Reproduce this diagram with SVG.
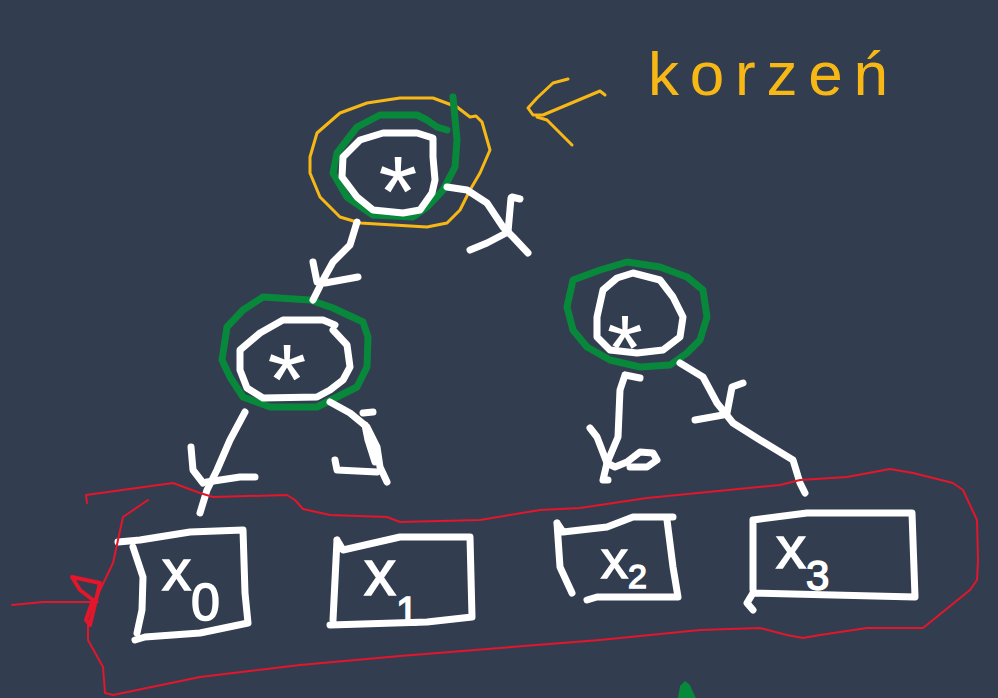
<svg xmlns="http://www.w3.org/2000/svg" width="998" height="698" viewBox="0 0 998 698">
<style>
.w{fill:none;stroke:#ffffff;stroke-width:7;stroke-linecap:round;stroke-linejoin:round}
.g{fill:none;stroke:#07883a;stroke-width:7;stroke-linecap:round;stroke-linejoin:round}
.o{fill:none;stroke:#f7b816;stroke-width:3;stroke-linecap:round;stroke-linejoin:round}
.r{fill:none;stroke:#e3162b;stroke-width:2;stroke-linecap:round;stroke-linejoin:round}
.rt{fill:none;stroke:#e3162b;stroke-width:4;stroke-linecap:round;stroke-linejoin:round}
.star{fill:#ffffff;font-family:"Liberation Sans",Arial,sans-serif;text-anchor:middle}
.lbl{fill:#ffffff;stroke:#ffffff;stroke-width:1.5;font-family:"Liberation Sans",Arial,sans-serif}
</style>
<rect width="998" height="698" fill="#333d50"/>

<g id="korzen-label">
  <text x="648" y="95" font-family="Liberation Sans, Arial, sans-serif" font-size="62" fill="#f7b816" textLength="240" lengthAdjust="spacing">korzeń</text>
  <path class="o" d="M568,79 L553,83 L537,98 L528,108 L533,115 L543,115 L600,91 L605,95"/>
  <path class="o" d="M537,117 L547,120 L572,145"/>
</g>

<g id="root">
  <path class="o" d="M310,157 L317,133 L340,113 L367,103 L400,98 L433,98 L457,107 L470,117 L476,116 L482,122 L490,150 L480,173 L470,190 L460,210 L447,223 L427,227 L360,223 L340,217 L320,197 L310,173 Z"/>
  <path class="g" d="M453,97 L457,140 L455,167 L443,190 L427,207 L413,217 L373,215 L347,197 L333,173 L337,153 L357,127 L380,115 L417,115 L427,120 L437,127 L447,130"/>
  <path class="w" d="M433,138 L433,157 L435,180 L432,193 L420,210 L403,213 L373,210 L357,197 L342,177 L343,157 L360,140 L383,133 L417,133 Z"/>
  <text class="star" x="398" y="226" font-size="100">*</text>
</g>

<g id="node-left">
  <path class="g" d="M263,297 L310,300 L333,308 L363,322 L368,337 L367,367 L357,387 L337,397 L317,407 L270,407 L243,397 L230,377 L222,360 L227,327 L243,310 Z"/>
  <path class="w" d="M333,330 L347,345 L350,367 L343,380 L330,390 L317,397 L263,398 L247,388 L240,370 L240,350 L260,333 L283,320 L323,320 L335,325"/>
  <text class="star" x="287" y="414" font-size="100">*</text>
</g>

<g id="node-right">
  <path class="g" d="M573,280 L600,270 L627,262 L660,267 L687,277 L703,290 L707,317 L700,340 L687,353 L670,365 L640,367 L610,360 L587,347 L573,330 L567,307 Z"/>
  <path class="w" d="M633,273 L660,280 L673,297 L683,317 L680,337 L663,350 L637,353 L610,350 L597,337 L597,317 L603,290 L617,278 Z"/>
  <text class="star" x="625" y="380" font-size="92">*</text>
</g>

<g id="connectors">
  <path class="w" d="M357,222 L350,245 L333,262 L323,280 L313,300"/>
  <path class="w" d="M313,262 L317,282 L325,283 L358,277"/>
  <path class="w" d="M447,187 L467,190 L487,203 L503,227 L513,237 L528,253"/>
  <path class="w" d="M512,197 L520,199 M511,198 L508,232 L487,243 L470,250"/>
  <path class="w" d="M245,412 L230,440 L217,470 L207,490 L200,513"/>
  <path class="w" d="M191,447 L193,470 L203,483 M207,482 L240,477 L255,477"/>
  <path class="w" d="M330,402 L350,413 L367,427 L377,447 L380,467 L387,482"/>
  <path class="w" d="M363,413 L373,412 M365,425 L368,440 L375,462 M335,460 L337,470 L377,472"/>
  <path class="w" d="M625,375 L640,378 M625,375 L620,390 L618,437 L607,463 L603,480 L608,480"/>
  <path class="w" d="M590,428 L597,437 L607,463 L615,467 L627,462 L640,452 L653,453 L657,460 L647,467 L630,467"/>
  <path class="w" d="M680,363 L703,377 L717,403 L733,423 L760,440 L793,460 L800,483 L805,493"/>
  <path class="w" d="M743,383 L732,387 L727,413 M695,420 L723,415"/>
</g>

<g id="leaf-x0">
  <path class="w" d="M118,542 L140,540 L190,532 L243,530 L245,593 L248,623 L200,633 L145,637 L135,640 M133,547 L143,577 L142,610 L137,633"/>
  <text class="lbl" x="162" y="590" font-size="58">x<tspan font-size="52" dy="30">0</tspan></text>
</g>

<g id="leaf-x1">
  <path class="w" d="M337,540 L343,550 L400,537 L470,537 L472,617 L427,622 L330,625 M337,540 L333,620"/>
  <text class="lbl" x="364" y="595" font-size="64">x<tspan font-size="40" dy="30">1</tspan></text>
</g>

<g id="leaf-x2">
  <path class="w" d="M557,523 L563,532 L607,527 L633,517 L673,517 M667,520 L673,567 L678,597 L597,597 L587,600 M557,523 L560,567 L572,593"/>
  <text class="lbl" x="601" y="578" font-size="54">x<tspan font-size="34" dy="10">2</tspan></text>
</g>

<g id="leaf-x3">
  <path class="w" d="M753,520 L807,513 L912,513 L915,597 L753,593 L747,603 L753,610 M753,520 L753,590"/>
  <text class="lbl" x="776" y="568" font-size="60">x<tspan font-size="42" dy="22">3</tspan></text>
</g>

<g id="group-outline">
  <path class="r" d="M86,495 L87,503 M86,495 L173,483 L200,493 L213,497 L287,495 L295,500 L303,509 L330,515 L387,517 L400,522 L480,520 L540,510 L580,508 L647,498 L780,485 L800,480 L847,477 L890,469 L913,473 L953,483 L963,490 L977,520 L978,560 L977,580 L970,590 L923,628 L867,628 L820,635 L803,638 L787,635 L760,628 L700,630 L600,640 L500,648 L400,656 L300,665 L200,677 L113,695 L105,693 L103,667 L88,640 L88,625 L100,590 L113,563 L123,517 L148,500"/>
  <path class="r" d="M12,605 L43,602 L98,602"/>
  <path class="rt" d="M72,577 L100,583 L90,625 L86,620 L93,600 L80,590 Z"/>
</g>

<g id="mark-bottom">
  <path d="M678,698 L680,686 L685,681 L690,685 L693,692 L696,698 Z" fill="#07883a"/>
</g>
</svg>
